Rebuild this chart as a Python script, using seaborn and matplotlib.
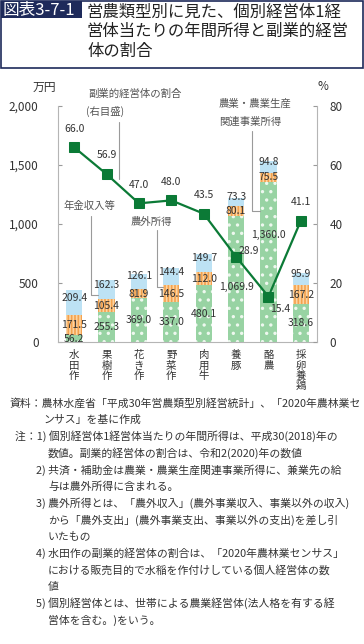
import matplotlib
matplotlib.use('Agg')

import matplotlib.pyplot as plt
import seaborn as sns
import numpy as np
from matplotlib.patches import Rectangle

# data
categories = ['水田作', '果樹作', '花き作', '野菜作', '肉用牛', '養豚', '酪農', '採卵養鶏']
farm_income = [56.2, 255.3, 369.0, 337.0, 480.1, 1069.9, 1360.0, 318.6]
offfarm_income = [171.5, 105.4, 81.9, 146.5, 112.0, 80.1, 75.5, 167.2]
pension_income = [209.4, 162.3, 126.1, 144.4, 149.7, 73.3, 94.8, 95.9]
side_ratio = [66.0, 56.9, 47.0, 48.0, 43.5, 28.9, 15.4, 41.1]

left_ticks = [0, 500, 1000, 1500, 2000]
right_ticks = [0, 20, 40, 60, 80]

title_lines = ['営農類型別に見た、個別経営体1経',
               '営体当たりの年間所得と副業的経営',
               '体の割合']

notes = [
    (10, '資料：農林水産省「平成30年営農類型別経営統計」、「2020年農林業セ'),
    (43, 'ンサス」を基に作成'),
    (15, '注：1) 個別経営体1経営体当たりの年間所得は、平成30(2018)年の'),
    (48, '数値。副業的経営体の割合は、令和2(2020)年の数値'),
    (36, '2) 共済・補助金は農業・農業生産関連事業所得に、兼業先の給'),
    (48, '与は農外所得に含まれる。'),
    (36, '3) 農外所得とは、「農外収入」(農外事業収入、事業以外の収入)'),
    (48, 'から「農外支出」(農外事業支出、事業以外の支出)を差し引'),
    (48, 'いたもの'),
    (36, '4) 水田作の副業的経営体の割合は、「2020年農林業センサス」'),
    (48, 'における販売目的で水稲を作付けしている個人経営体の数'),
    (48, '値'),
    (36, '5) 個別経営体とは、世帯による農業経営体(法人格を有する経'),
    (48, '営体を含む。)をいう。'),
]

GREEN = '#98d3a3'
PEACH = '#fcd4a2'
ORANGE = '#f3a24e'
BLUE = '#bde2f4'
LINE = '#0b7a36'
NAVY = '#1e2a5a'
GRAY = '#9a9a9a'
TXT = '#333333'

sns.set_style('white')
plt.rcParams['font.family'] = ['Noto Sans CJK JP', 'DejaVu Sans']
plt.rcParams['hatch.linewidth'] = 1.2

W, H = 364, 644
fig = plt.figure(figsize=(W / 100, H / 100), dpi=100)


def fx(x):
    return x / W


def fy(y):
    return 1 - y / H


# title box
fig.patches.append(Rectangle((fx(1), fy(68)), fx(362), 67 / H, transform=fig.transFigure,
                             fill=False, edgecolor=NAVY, linewidth=1.2))
fig.patches.append(Rectangle((fx(1), fy(18)), fx(81), 17 / H, transform=fig.transFigure,
                             facecolor=NAVY, edgecolor=NAVY, linewidth=0))
fig.text(fx(3), fy(10), '図表3-7-1', color='white', fontsize=12, va='center', ha='left')
for i, line in enumerate(title_lines):
    fig.text(fx(87), fy(12 + i * 19.5), line, color='#222222', fontsize=11.8,
             va='center', ha='left')

ax = fig.add_axes([fx(58), fy(342), fx(317 - 58), (342 - 106) / H])

# stacked bars drawn as cumulative layers
cum_orange = np.array(farm_income) + np.array(offfarm_income)
cum_total = cum_orange + np.array(pension_income)

sns.barplot(x=categories, y=cum_total, color=BLUE, width=0.5, ax=ax,
            saturation=1, linewidth=0)
n0 = len(ax.patches)
sns.barplot(x=categories, y=cum_orange, color=PEACH, width=0.5, ax=ax,
            saturation=1, linewidth=0)
for p in ax.patches[n0:]:
    p.set_hatch('|||||')
    p.set_edgecolor(ORANGE)
    p.set_linewidth(0)
n1 = len(ax.patches)
sns.barplot(x=categories, y=farm_income, color=GREEN, width=0.5, ax=ax,
            saturation=1, linewidth=0)
for p in ax.patches[n1:]:
    p.set_hatch('..')
    p.set_edgecolor('#eef8ef')
    p.set_linewidth(0)

ax.set_xlim(-0.5, len(categories) - 0.5)
ax.set_ylim(0, 2000)
ax.set_yticks(left_ticks)
ax.set_yticklabels([f'{v:,}' for v in left_ticks])
ax.set_xticks(range(len(categories)))
ax.set_xticklabels(['\n'.join(c) for c in categories], fontsize=7.5, color=TXT,
                   linespacing=1.05)
ax.set_xlabel('')
ax.set_ylabel('')
ax.tick_params(axis='x', length=0, pad=6)
ax.tick_params(axis='y', direction='in', length=3, color=GRAY, labelsize=8.5,
               labelcolor=TXT, pad=14)
for s in ['top', 'right']:
    ax.spines[s].set_visible(False)
for s in ['left', 'bottom']:
    ax.spines[s].set_color('#b5b5b5')
    ax.spines[s].set_linewidth(0.8)

# bar value labels
green_label_y = {5: 470, 6: 910}
for i in range(len(categories)):
    gy = green_label_y.get(i, farm_income[i] / 2)
    ax.text(i, gy, f'{farm_income[i]:,.1f}', ha='center', va='center',
            fontsize=7.5, color=TXT)
    ax.text(i, farm_income[i] + offfarm_income[i] / 2, f'{offfarm_income[i]:,.1f}',
            ha='center', va='center', fontsize=7.5, color=TXT)
    ax.annotate(f'{pension_income[i]:,.1f}', (i, cum_orange[i] + pension_income[i] / 2),
                xytext=(0, 3.5), textcoords='offset points', ha='center', va='center',
                fontsize=7.5, color=TXT)

# right axis: ratio line
ax2 = ax.twinx()
xs = np.arange(len(categories))
sns.lineplot(x=xs, y=side_ratio, ax=ax2, color=LINE, linewidth=1.6, marker='s',
             markersize=6.5, markeredgecolor=LINE, markerfacecolor=LINE)
ax2.set_ylim(0, 80)
ax2.set_yticks(right_ticks)
ax2.tick_params(axis='y', direction='in', length=3, color=GRAY, labelsize=8.5,
                labelcolor=TXT, pad=9)
for s in ['top', 'left', 'bottom']:
    ax2.spines[s].set_visible(False)
ax2.spines['right'].set_color('#b5b5b5')
ax2.spines['right'].set_linewidth(0.8)

ratio_offsets = {5: (2, 4, 'left'), 6: (1.5, -9, 'left')}
for i, v in enumerate(side_ratio):
    dx, dy, ha = ratio_offsets.get(i, (0, 13.5, 'center'))
    ax2.annotate(f'{v:.1f}', (i, v), xytext=(dx, dy), textcoords='offset points',
                 ha=ha, va='center', fontsize=7.5, color=TXT)

# leader lines and series notes
lc = dict(color=GRAY, linewidth=0.8, clip_on=False)
ax.plot([0.52, 0.52, 0.75], [1072, 400, 400], **lc)
ax.text(0.46, 1157, '年金収入等', ha='center', va='center', fontsize=7.5, color='#555555')
ax.plot([2.56, 2.56, 2.75], [953, 468, 468], **lc)
ax.text(2.37, 1013, '農外所得', ha='center', va='center', fontsize=7.5, color='#555555')
ax.plot([5.49, 5.49, 5.75], [1787, 1106, 1106], **lc)
ax.text(4.47, 2017, '農業・農業生産', ha='left', va='center', fontsize=7.5,
        color='#555555', clip_on=False)
ax.text(4.47, 1864, '関連事業所得', ha='left', va='center', fontsize=7.5,
        color='#555555', clip_on=False)
ax.plot([1.38, 1.38], [1864, 1380], **lc)
ax.text(0.43, 2102, '副業的経営体の割合', ha='left', va='center', fontsize=7.5,
        color='#555555', clip_on=False)
ax.text(0.37, 1957, '(右目盛)', ha='left', va='center', fontsize=7.5,
        color='#555555', clip_on=False)

fig.text(fx(44), fy(87), '万円', ha='center', va='center', fontsize=8.5, color=TXT)
fig.text(fx(323), fy(87), '%', ha='center', va='center', fontsize=8.5, color=TXT)

# source and notes
for k, (x0, line) in enumerate(notes):
    fig.text(fx(x0), fy(403 + k * 16.7), line, ha='left', va='center',
             fontsize=7.8, color=TXT)

fig.savefig('out.png', dpi=100)
plt.close(fig)
